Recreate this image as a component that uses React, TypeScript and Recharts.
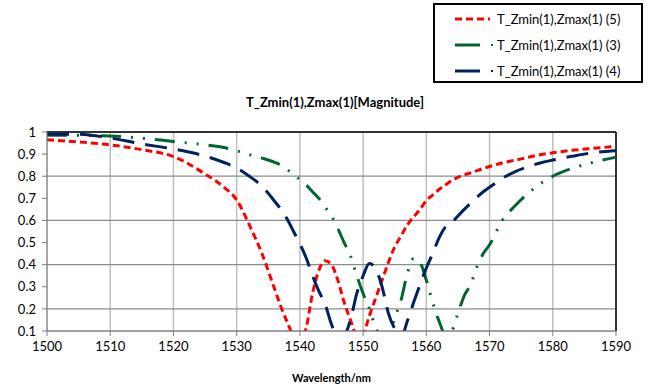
import { LineChart, Line, XAxis, YAxis, CartesianGrid, Legend, ReferenceLine } from "recharts";

const wavelength = [
  1500, 1505, 1510, 1515, 1520, 1525, 1528, 1530, 1532, 1534, 1536, 1537, 1538, 1539, 1540,
  1541, 1542, 1543, 1544, 1545, 1546, 1547, 1548, 1549, 1550, 1551, 1552, 1553, 1554, 1555,
  1556, 1557, 1558, 1559, 1560, 1561, 1562, 1563, 1564, 1565, 1566, 1567, 1568, 1569, 1570,
  1572, 1574, 1576, 1578, 1580, 1583, 1586, 1590,
];

// T_Zmin(1),Zmax(1) (5)
const series5 = [
  0.965, 0.955, 0.942, 0.92, 0.889, 0.81, 0.75, 0.693, 0.58, 0.45, 0.29, 0.21, 0.14, 0.075, 0.04,
  0.115, 0.27, 0.375, 0.418, 0.4, 0.33, 0.23, 0.15, 0.08, 0.09, 0.17, 0.25, 0.33, 0.41, 0.48,
  0.53, 0.58, 0.617, 0.65, 0.69, 0.715, 0.74, 0.76, 0.78, 0.795, 0.806, 0.815, 0.825, 0.835, 0.844,
  0.86, 0.872, 0.885, 0.897, 0.906, 0.917, 0.925, 0.935,
];

// T_Zmin(1),Zmax(1) (3)
const series3 = [
  0.985, 0.985, 0.982, 0.972, 0.957, 0.942, 0.93, 0.915, 0.898, 0.882, 0.863, 0.85, 0.83, 0.806, 0.785,
  0.76, 0.73, 0.7, 0.66, 0.62, 0.564, 0.5, 0.44, 0.35, 0.27, 0.2, 0.115, 0.07, 0.08, 0.16,
  0.24, 0.36, 0.428, 0.41, 0.33, 0.23, 0.145, 0.085, 0.1, 0.18, 0.26, 0.31, 0.39, 0.45, 0.49,
  0.6, 0.665, 0.72, 0.765, 0.8, 0.835, 0.86, 0.886,
];

// T_Zmin(1),Zmax(1) (4)
const series4 = [
  0.99, 0.99, 0.973, 0.946, 0.923, 0.891, 0.862, 0.837, 0.8, 0.755, 0.687, 0.65, 0.605, 0.55, 0.495,
  0.43, 0.35, 0.28, 0.22, 0.13, 0.07, 0.08, 0.15, 0.27, 0.35, 0.405, 0.38, 0.3, 0.18, 0.11,
  0.07, 0.145, 0.23, 0.31, 0.385, 0.45, 0.52, 0.57, 0.59, 0.62, 0.65, 0.678, 0.705, 0.73, 0.75,
  0.79, 0.82, 0.842, 0.86, 0.873, 0.89, 0.905, 0.915,
];

const xTicks = [1500, 1510, 1520, 1530, 1540, 1550, 1560, 1570, 1580, 1590];
const yTicks = [0.1, 0.2, 0.3, 0.4, 0.5, 0.6, 0.7, 0.8, 0.9, 1];

const data = wavelength.map((wl, i) => ({
  wl,
  s5: series5[i],
  s3: series3[i],
  s4: series4[i],
}));

const series = [
  { key: "s5", name: "T_Zmin(1),Zmax(1) (5)", color: "#FF0000", dash: "7 4" },
  { key: "s3", name: "T_Zmin(1),Zmax(1) (3)", color: "#00652E", dash: "20 10 2 10 2 10" },
  { key: "s4", name: "T_Zmin(1),Zmax(1) (4)", color: "#002060", dash: "22 11" },
];

const font = "Lato, 'Open Sans', sans-serif";

function LegendBox() {
  return (
    <svg width={210} height={80} style={{ display: "block" }}>
      <rect x={1} y={1} width={208} height={78} fill="#fff" stroke="#000" strokeWidth={2} />
      {series.map((s, i) => {
        const y = 16 + i * 26;
        return (
          <g key={s.key}>
            {i === 0 ? (
              <line x1={22} x2={57} y1={y} y2={y} stroke={s.color} strokeWidth={3} strokeDasharray="7 4" />
            ) : (
              <>
                <line x1={22} x2={47} y1={y} y2={y} stroke={s.color} strokeWidth={3} />
                <rect x={58} y={y - 1} width={2} height={2} fill={s.color} />
              </>
            )}
            <text x={64} y={y + 4.5} fontSize={13} fontFamily={font} fill="#000">
              {s.name}
            </text>
          </g>
        );
      })}
    </svg>
  );
}

export default function App() {
  return (
    <div style={{ position: "absolute", left: 0, top: 0, width: 648, height: 389, background: "#fff" }}>
      <div
        style={{
          position: "absolute",
          left: 46,
          width: 578,
          top: 94,
          textAlign: "center",
          fontFamily: font,
          fontWeight: 700,
          fontSize: 13,
        }}
      >
        T_Zmin(1),Zmax(1)[Magnitude]
      </div>
      <LineChart width={648} height={389} data={data} margin={{ top: 132, right: 32, left: 0, bottom: 0 }}>
        <CartesianGrid horizontal={false} stroke="#BFBFBF" strokeWidth={1.5} />
        <CartesianGrid vertical={false} stroke="#8C8C8C" strokeWidth={1.2} />
        <XAxis
          dataKey="wl"
          type="number"
          domain={[1500, 1590]}
          ticks={xTicks}
          allowDataOverflow
          height={58}
          stroke="#7F7F7F"
          tickSize={5}
          tickMargin={6}
          tick={{ fill: "#000", fontSize: 13, fontFamily: font }}
          label={{
            value: "Wavelength/nm",
            position: "insideBottom",
            offset: 7,
            fill: "#000",
            fontSize: 11,
            fontWeight: 700,
            fontFamily: font,
          }}
        />
        <YAxis
          type="number"
          domain={[0.1, 1]}
          ticks={yTicks}
          allowDataOverflow
          width={47}
          stroke="#7F7F7F"
          tickSize={5}
          tickMargin={6}
          tickFormatter={(v: number) => String(Math.round(v * 10) / 10)}
          tick={{ fill: "#000", fontSize: 13, fontFamily: font }}
        />
        <ReferenceLine y={1} stroke="#000" strokeWidth={1.5} />
        <ReferenceLine x={1590} stroke="#000" strokeWidth={1.5} />
        {series.map((s) => (
          <Line
            key={s.key}
            dataKey={s.key}
            name={s.name}
            type="monotone"
            stroke={s.color}
            strokeWidth={3}
            strokeDasharray={s.dash}
            dot={false}
            activeDot={false}
            isAnimationActive={false}
          />
        ))}
        <Legend
          layout="vertical"
          align="center"
          verticalAlign="middle"
          content={() => <LegendBox />}
          wrapperStyle={{ position: "absolute", left: 433, top: 3, width: 210, height: 80 }}
        />
      </LineChart>
    </div>
  );
}
